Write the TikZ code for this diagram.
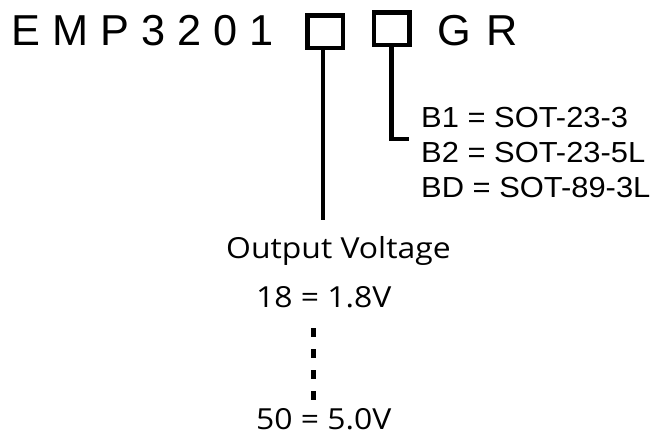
\documentclass[tikz,border=0pt]{standalone}
\usepackage{fontspec}
\setmainfont{Liberation Sans}
\newfontfamily\ovfont[FakeStretch=1.1]{Open Sans}
\newfontfamily\pkgfont[FakeStretch=1.065]{Liberation Sans}
\begin{document}
\begin{tikzpicture}[x=1pt,y=-1pt,
  title/.style={inner sep=0pt,anchor=base west,font=\fontsize{43.3}{50}\selectfont},
  pkg/.style={inner sep=0pt,anchor=base west,font=\pkgfont\fontsize{29}{35}\selectfont},
  ovtext/.style={inner sep=0pt,anchor=base west,font=\ovfont\fontsize{29}{34}\selectfont},
  slot/.style={draw,line width=4.5pt,inner sep=0pt,minimum width=35.5pt,minimum height=32.5pt},
  lead/.style={line width=4.5pt},
  dots/.style={line width=5pt,dash pattern=on 9pt off 12pt}]
\useasboundingbox (0,0) rectangle (651,434);
\node[title] (pn) at (11.5,45) {E M P 3 2 0 1};
\node[slot] (box1) at (325,31.5) {};
\node[slot] (box2) at (391.5,28.5) {};
\node[title] (gr) at (437,45) {G\hspace{4pt} R};
\node[pkg] (b1) at (421,127) {B1 = SOT-23-3};
\node[pkg] (b2) at (421,162) {B2 = SOT-23-5L};
\node[pkg] (bd) at (421,197) {BD = SOT-89-3L};
\node[ovtext] (ov) at (226,258) {Output Voltage};
\node[ovtext] (v18) at (256,307) {18 = 1.8V};
\node[ovtext] (v50) at (256,429) {50 = 5.0V};
\coordinate (c1) at (323,220);
\coordinate (c2) at (409,139);
\coordinate (d1) at (313,328);
\coordinate (d2) at (313,401);
\draw[lead] (box1.south -| c1) -- (c1);
\draw[lead] (box2.south) |- (c2);
\draw[dots] (d1) -- (d2);
\end{tikzpicture}
\end{document}
